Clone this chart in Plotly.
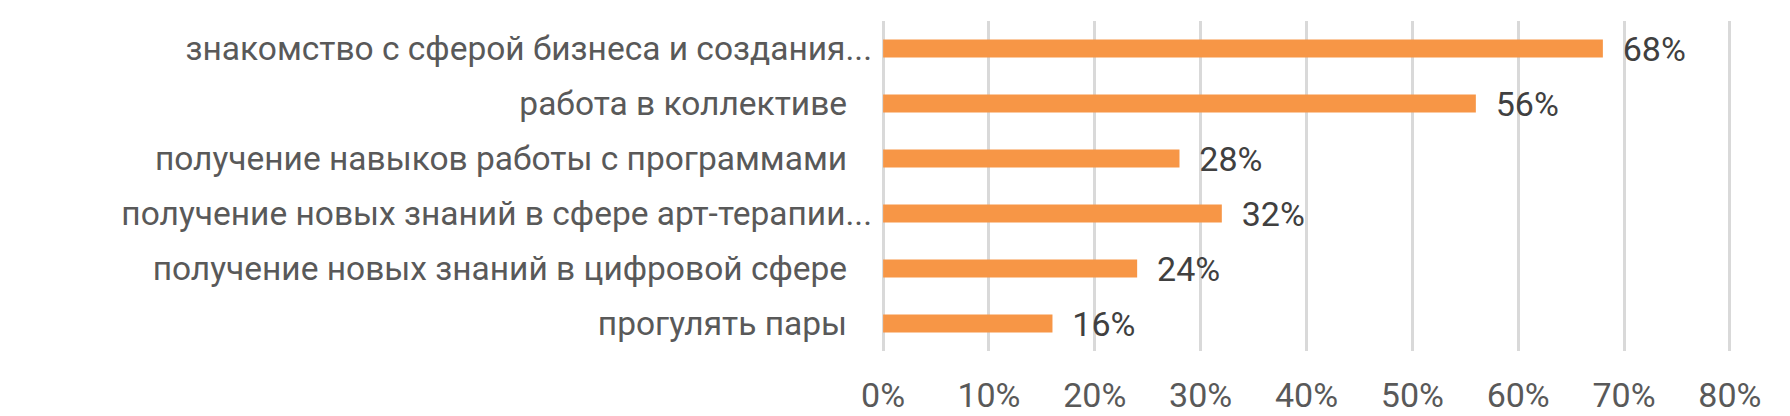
import plotly.graph_objects as go

categories = [
    "знакомство с сферой бизнеса и создания...",
    "работа в коллективе",
    "получение навыков работы с программами",
    "получение новых знаний в сфере арт-терапии...",
    "получение новых знаний в цифровой сфере",
    "прогулять пары",
]
values = [0.68, 0.56, 0.28, 0.32, 0.24, 0.16]
tick_vals = [0, 0.1, 0.2, 0.3, 0.4, 0.5, 0.6, 0.7, 0.8]
tick_text = ["0%", "10%", "20%", "30%", "40%", "50%", "60%", "70%", "80%"]

FONT = "Roboto, sans-serif"

def ylabel(c):
    return c if c.endswith("...") else c + "\u00a0\u00a0\u00a0"

fig = go.Figure(go.Bar(
    x=values,
    y=[ylabel(c) for c in categories],
    orientation="h",
    marker=dict(color="#F79646", line=dict(width=0)),
    width=0.33,
    text=["\u00a0\u00a0" + f"{round(v*100)}%" for v in values],
    textposition="outside",
    constraintext="none",
    cliponaxis=False,
    textfont=dict(family=FONT, size=34, color="#404040"),
))

fig.update_layout(
    width=1790, height=416,
    margin=dict(l=881, r=58, t=21, b=65),
    paper_bgcolor="white", plot_bgcolor="white",
    showlegend=False,
    font=dict(family=FONT, size=34, color="#595959"),
)
fig.update_xaxes(
    range=[-0.002, 0.802],
    tickvals=tick_vals, ticktext=tick_text,
    showgrid=True, gridcolor="#D9D9D9", gridwidth=3,
    zeroline=False, showline=False, automargin=False,
    ticks="", ticklabelstandoff=21,
    tickfont=dict(family=FONT, size=34, color="#595959"),
)
fig.update_yaxes(
    autorange="reversed",
    showgrid=False, zeroline=False, showline=False, automargin=False,
    ticks="", ticklabelstandoff=8,
    tickfont=dict(family=FONT, size=33.5, color="#595959"),
)

fig.write_html(
    "out.html",
    config={"displayModeBar": False},
    post_script="document.body.style.margin='0';document.body.style.overflow='hidden';",
)
